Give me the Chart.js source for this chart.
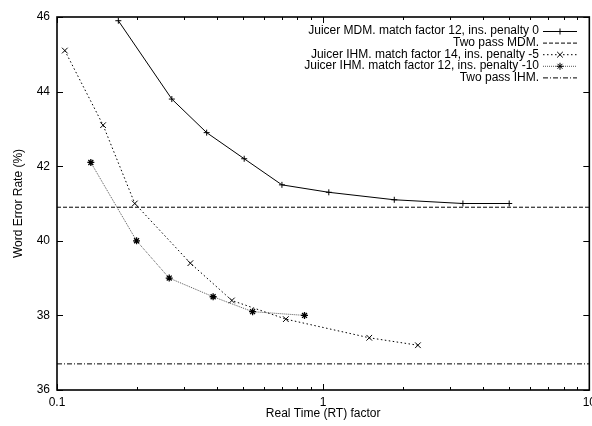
<!DOCTYPE html>
<html>
<head>
<meta charset="utf-8">
<script src="https://cdn.jsdelivr.net/npm/chart.js@4.4.0/dist/chart.umd.min.js"></script>
<style>
    html, body { margin: 0; padding: 0; background: #fff; overflow: hidden; }
</style>
</head>
<body>
<canvas id="myChart" width="601" height="426"></canvas>
<script>
// Juicer MDM. match factor 12, ins. penalty 0
const mdmRt = [0.17, 0.27, 0.365, 0.505, 0.7, 1.05, 1.85, 3.35, 5.0];
const mdmWer = [45.9, 43.8, 42.9, 42.2, 41.5, 41.3, 41.1, 41.0, 41.0];
// Juicer IHM. match factor 14, ins. penalty -5
const ihm14Rt = [0.107, 0.149, 0.196, 0.317, 0.454, 0.724, 1.49, 2.27];
const ihm14Wer = [45.1, 43.1, 41.0, 39.4, 38.4, 37.9, 37.4, 37.2];
// Juicer IHM. match factor 12, ins. penalty -10
const ihm12Rt = [0.134, 0.199, 0.264, 0.386, 0.543, 0.851];
const ihm12Wer = [42.1, 40.0, 39.0, 38.5, 38.1, 38.0];
// two pass baselines (flat over the whole axis)
const baseRt = [0.1, 10];
const twoPassMdm = [40.9, 40.9];
const twoPassIhm = [36.7, 36.7];

// tick values
const xMajor = [0.1, 1, 10];
const xMinor = [0.2, 0.3, 0.4, 0.5, 0.6, 0.7, 0.8, 0.9, 2, 3, 4, 5, 6, 7, 8, 9];
const yTicks = [36, 38, 40, 42, 44, 46];

const FONT = '"Liberation Sans", Arial, Helvetica, sans-serif';

function toPoints(xs, ys) {
    return xs.map((x, i) => ({ x: x, y: ys[i] }));
}

function isMajor(v) {
    return xMajor.some(m => Math.abs(m - v) / m < 1e-6);
}

// gnuplot style box with inward ticks on all four sides
const frame = {
    id: 'frame',
    afterDraw(chart) {
        const { ctx, chartArea: a, scales } = chart;
        const x = scales.x, y = scales.y;
        ctx.save();
        ctx.strokeStyle = '#000';
        ctx.lineWidth = 1;
        ctx.beginPath();
        xMajor.forEach(v => {
            const px = Math.round(x.getPixelForValue(v)) + 0.5;
            ctx.moveTo(px, a.bottom); ctx.lineTo(px, a.bottom - 6);
            ctx.moveTo(px, a.top); ctx.lineTo(px, a.top + 6);
        });
        xMinor.forEach(v => {
            const px = Math.round(x.getPixelForValue(v)) + 0.5;
            ctx.moveTo(px, a.bottom); ctx.lineTo(px, a.bottom - 3);
            ctx.moveTo(px, a.top); ctx.lineTo(px, a.top + 3);
        });
        yTicks.forEach(v => {
            const py = Math.round(y.getPixelForValue(v)) + 0.5;
            ctx.moveTo(a.left, py); ctx.lineTo(a.left + 6, py);
            ctx.moveTo(a.right, py); ctx.lineTo(a.right - 6, py);
        });
        ctx.stroke();
        ctx.lineWidth = 1.6;
        ctx.strokeRect(a.left, a.top, a.right - a.left, a.bottom - a.top);
        ctx.restore();
    }
};

// right aligned key in the upper right corner, sample to the right of the text
const keyBox = {
    id: 'keyBox',
    afterDatasetsDraw(chart) {
        const ctx = chart.ctx;
        const textRight = 539, x0 = 543, x1 = 577;
        ctx.save();
        ctx.font = '12px ' + FONT;
        ctx.textAlign = 'right';
        ctx.textBaseline = 'middle';
        chart.data.datasets.forEach((ds, i) => {
            const yy = 31 + i * 11.6;
            ctx.fillStyle = '#000';
            ctx.fillText(ds.label, textRight, yy);
            ctx.strokeStyle = ds.borderColor;
            ctx.lineWidth = ds.borderWidth;
            ctx.setLineDash(ds.borderDash || []);
            ctx.beginPath();
            ctx.moveTo(x0, yy + 0.5);
            ctx.lineTo(x1, yy + 0.5);
            ctx.stroke();
            ctx.setLineDash([]);
            if (ds.pointRadius > 0) {
                ctx.strokeStyle = ds.pointBorderColor;
                ctx.fillStyle = ds.pointBorderColor;
                Chart.helpers.drawPoint(ctx, {
                    pointStyle: ds.pointStyle,
                    radius: ds.pointRadius,
                    borderWidth: ds.pointBorderWidth,
                    rotation: 0
                }, (x0 + x1) / 2, yy + 0.5);
            }
        });
        ctx.restore();
    }
};

const ctx = document.querySelector('#myChart');

new Chart(ctx, {
    type: 'line',
    data: {
        datasets: [{
            label: 'Juicer MDM. match factor 12, ins. penalty 0',
            data: toPoints(mdmRt, mdmWer),
            borderColor: '#000',
            borderWidth: 1,
            pointStyle: 'cross',
            pointRadius: 3,
            pointBorderColor: '#000',
            pointBorderWidth: 1
        }, {
            label: 'Two pass MDM.',
            data: toPoints(baseRt, twoPassMdm),
            borderColor: '#000',
            borderWidth: 1,
            borderDash: [4, 2],
            pointRadius: 0
        }, {
            label: 'Juicer IHM. match factor 14, ins. penalty -5',
            data: toPoints(ihm14Rt, ihm14Wer),
            borderColor: '#000',
            borderWidth: 1,
            borderDash: [1.5, 2.5],
            pointStyle: 'crossRot',
            pointRadius: 4,
            pointBorderColor: '#000',
            pointBorderWidth: 1
        }, {
            label: 'Juicer IHM. match factor 12, ins. penalty -10',
            data: toPoints(ihm12Rt, ihm12Wer),
            borderColor: '#555',
            borderWidth: 1,
            borderDash: [1, 1],
            pointStyle: 'star',
            pointRadius: 3.5,
            pointBorderColor: '#000',
            pointBorderWidth: 1.3
        }, {
            label: 'Two pass IHM.',
            data: toPoints(baseRt, twoPassIhm),
            borderColor: '#000',
            borderWidth: 1,
            borderDash: [5, 2, 1, 2],
            pointRadius: 0
        }]
    },
    options: {
        responsive: false,
        animation: false,
        events: [],
        layout: { padding: { top: 17, right: 0, bottom: 0, left: 0 } },
        plugins: {
            legend: { display: false },
            tooltip: { enabled: false }
        },
        elements: { line: { tension: 0 } },
        scales: {
            x: {
                type: 'logarithmic',
                min: 0.1,
                max: 10,
                grid: { display: false, drawTicks: false },
                border: { display: false },
                ticks: {
                    autoSkip: false,
                    maxRotation: 0,
                    padding: 5,
                    color: '#000',
                    font: { family: FONT, size: 12 },
                    callback: v => isMajor(v) ? String(v) : ''
                },
                title: {
                    display: true,
                    text: 'Real Time (RT) factor',
                    color: '#000',
                    font: { family: FONT, size: 12 },
                    padding: { top: 0, bottom: 5 }
                },
                afterFit(scale) {
                    scale.height = 36;
                }
            },
            y: {
                min: 36,
                max: 46,
                grid: { display: false, drawTicks: false },
                border: { display: false },
                ticks: {
                    stepSize: 2,
                    padding: 7,
                    color: '#000',
                    font: { family: FONT, size: 12 }
                },
                title: {
                    display: true,
                    text: 'Word Error Rate (%)',
                    color: '#000',
                    font: { family: FONT, size: 12 },
                    padding: { top: 11, bottom: 0 }
                },
                afterFit(scale) {
                    scale.width = 57;
                }
            }
        }
    },
    plugins: [frame, keyBox]
});
</script>
</body>
</html>
